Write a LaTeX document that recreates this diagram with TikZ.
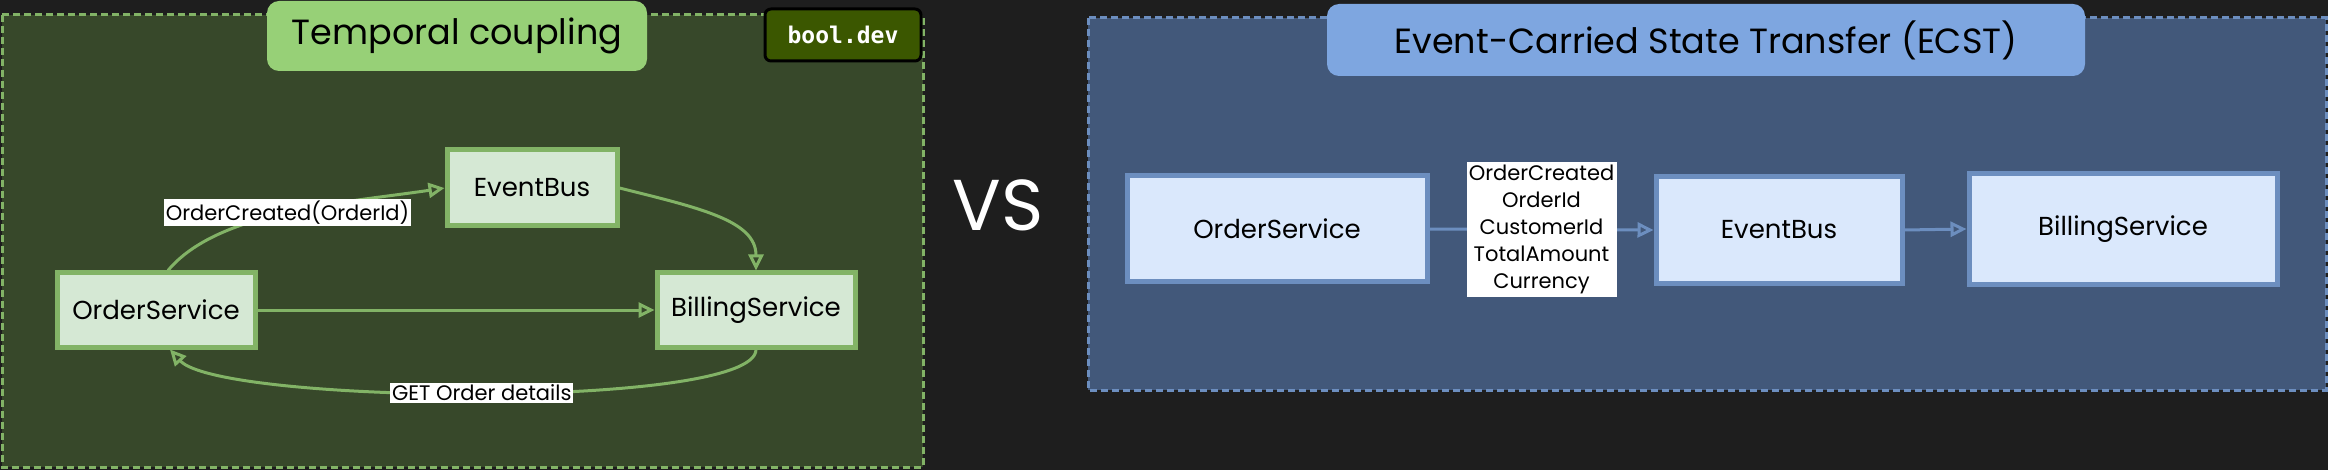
\documentclass[tikz,border=0pt]{standalone}
\usepackage{fontspec}
\setmainfont{Poppins}
\newfontfamily\tagfont{DejaVu Sans Mono}
\usetikzlibrary{arrows.meta, positioning}
\definecolor{bgdark}{HTML}{1E1E1E}
\definecolor{gpanel}{HTML}{37482A}
\definecolor{gline}{HTML}{82B366}
\definecolor{gtitle}{HTML}{97D077}
\definecolor{gfill}{HTML}{D5E8D4}
\definecolor{gtag}{HTML}{3B5700}
\definecolor{bpanel}{HTML}{42587A}
\definecolor{bline}{HTML}{6C8EBF}
\definecolor{btitle}{HTML}{7EA6E0}
\definecolor{bfill}{HTML}{DAE8FC}
\newcommand{\fs}[1]{\fontsize{#1}{#1}\selectfont}
\tikzset{
  panel/.style={dash pattern=on 7pt off 4pt, line width=3pt},
  titlebox/.style={rounded corners=12pt, minimum height=70pt, font=\fs{35}},
  gbox/.style={draw=gline, fill=gfill, line width=5pt, font=\fs{26}},
  bbox/.style={draw=bline, fill=bfill, line width=5pt, font=\fs{26}},
  garrow/.style={draw=gline, line width=3pt, -{Triangle[open, length=16pt, width=15pt]}},
  barrow/.style={draw=bline, line width=3pt, -{Triangle[open, length=16pt, width=15pt]}},
  lbl/.style={fill=white, inner sep=2pt, font=\fs{21}},
}

\begin{document}
\begin{tikzpicture}[x=1pt, y=-1pt]
  \fill[bgdark] (0,0) rectangle (2328,470);
  \useasboundingbox (0,0) rectangle (2328,470);

  \filldraw[panel, draw=gline, fill=gpanel] (2,15) rectangle (923,467);
  \node[titlebox, fill=gtitle, minimum width=380pt] (ttl1) at (457,36) {Temporal coupling};
  \node[draw=black, line width=3pt, rounded corners=6pt, fill=gtag, text=white, minimum width=156pt, minimum height=52pt, font=\tagfont\bfseries\fs{23}] (tag) at (843,35) {bool.dev};

  \node[gbox, minimum width=198pt, minimum height=74pt] (os) at (156,310) {OrderService};
  \node[gbox, minimum width=170pt, minimum height=76pt] (eb) at (532,188) {EventBus};
  \node[gbox, minimum width=198pt, minimum height=74pt] (bs) at (756,310) {BillingService};
  \draw[garrow] ([xshift=12pt]os.north) .. controls +(50,-60) and +(-100,15) .. node[lbl, midway] {OrderCreated(OrderId)} (eb.west);
  \draw[garrow] (eb.east) .. controls +(80,20) and +(0,-50) .. (bs.north);
  \draw[garrow] (os.east) -- (bs.west);
  \draw[garrow] (bs.south) .. controls +(0,60) and +(50,55) .. node[lbl, midway] {GET Order details} ([xshift=14pt]os.south);

  \node[text=white, font=\fs{72}] (vs) at (998,205) {VS};

  \filldraw[panel, draw=bline, fill=bpanel] (1088,18) rectangle (2326,390);
  \node[titlebox, fill=btitle, minimum width=758pt, minimum height=72pt] (ttl2) at (1706,40) {Event-Carried State Transfer (ECST)};

  \node[bbox, minimum width=300pt, minimum height=106pt] (ros) at (1277,229) {OrderService};
  \node[bbox, minimum width=246pt, minimum height=107pt] (reb) at (1779,230) {EventBus};
  \node[bbox, minimum width=308pt, minimum height=111pt] (rbs) at (2123,229) {BillingService};
  \draw[barrow] (ros.east) -- node[lbl, midway, align=center, minimum width=150pt, minimum height=134pt, font=\fontsize{21}{27}\selectfont] {OrderCreated\\OrderId\\CustomerId\\TotalAmount\\Currency} (reb.west);
  \draw[barrow] (reb.east) -- (rbs.west);
\end{tikzpicture}
\end{document}
